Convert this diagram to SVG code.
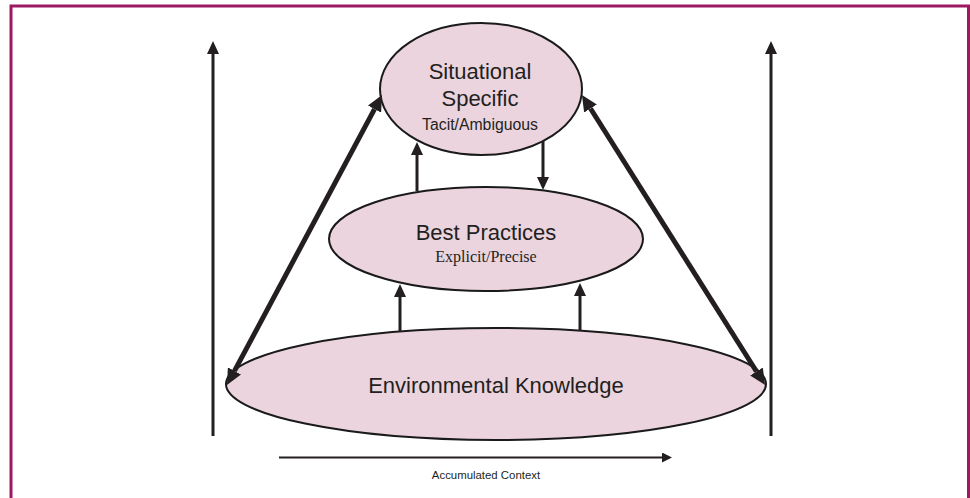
<svg xmlns="http://www.w3.org/2000/svg" width="970" height="498" viewBox="0 0 970 498">
  <defs>
    <style>
      .node { fill: #EBD4DE; stroke: #1a1a1a; stroke-width: 2; }
      .title { font-family: "Liberation Sans", Arial, sans-serif; font-size: 22px; fill: #231f20; text-anchor: middle; }
      .sub { font-family: "Liberation Sans", Arial, sans-serif; font-size: 15.8px; fill: #231f20; text-anchor: middle; }
      .serif { font-family: "Liberation Serif", "Times New Roman", serif; font-size: 16px; fill: #231f20; text-anchor: middle; }
      .caption { font-family: "Liberation Sans", Arial, sans-serif; font-size: 11.4px; fill: #231f20; text-anchor: middle; }
      .thin { stroke: #231f20; stroke-width: 3; fill: none; }
      .thick { stroke: #231f20; stroke-width: 5; fill: none; }
      .axis { stroke: #231f20; stroke-width: 2; fill: none; }
    </style>
    <marker id="head" markerUnits="userSpaceOnUse" markerWidth="14" markerHeight="12" refX="0" refY="6" orient="auto-start-reverse">
      <path d="M0,0 L13,6 L0,12 z" fill="#231f20"/>
    </marker>
    <marker id="headBig" markerUnits="userSpaceOnUse" markerWidth="17" markerHeight="15" refX="0" refY="7.5" orient="auto-start-reverse">
      <path d="M0,0 L16,7.5 L0,15 z" fill="#231f20"/>
    </marker>
    <marker id="headSmall" markerUnits="userSpaceOnUse" markerWidth="11" markerHeight="10" refX="0" refY="5" orient="auto-start-reverse">
      <path d="M0,0 L10,5 L0,10 z" fill="#231f20"/>
    </marker>
  </defs>

  <rect width="970" height="498" fill="#ffffff"/>

  <!-- frame: open at the bottom -->
  <path d="M11,498 V6 H968.5 V498" fill="none" stroke="#9C1A62" stroke-width="3"/>

  <g id="environmental">
    <ellipse class="node" cx="496" cy="384" rx="270" ry="56"/>
    <text class="title" x="496" y="393">Environmental Knowledge</text>
  </g>

  <g id="best-practices">
    <ellipse class="node" cx="486" cy="239" rx="157" ry="52"/>
    <text class="title" x="486" y="240">Best Practices</text>
    <text class="serif" x="486" y="262">Explicit/Precise</text>
  </g>

  <g id="situational">
    <ellipse class="node" cx="481" cy="89" rx="101" ry="66"/>
    <text class="title" x="480" y="79">Situational</text>
    <text class="title" x="480" y="106">Specific</text>
    <text class="sub" x="480" y="130">Tacit/Ambiguous</text>
  </g>

  <g id="connectors">
    <!-- side scales -->
    <line class="thin" x1="213" y1="436" x2="213" y2="54" marker-end="url(#head)"/>
    <line class="thin" x1="771" y1="436" x2="771" y2="54" marker-end="url(#head)"/>

    <!-- diagonals, double headed -->
    <line class="thick" x1="234.5" y1="370.9" x2="374.5" y2="109.1" marker-start="url(#headBig)" marker-end="url(#headBig)"/>
    <line class="thick" x1="590.5" y1="108.5" x2="756.5" y2="371.5" marker-start="url(#headBig)" marker-end="url(#headBig)"/>

    <!-- between situational and best practices -->
    <line class="thin" x1="417" y1="191" x2="417" y2="155" marker-end="url(#head)"/>
    <line class="thin" x1="543" y1="141" x2="543" y2="177" marker-end="url(#head)"/>

    <!-- between environmental and best practices -->
    <line class="thin" x1="400" y1="332" x2="400" y2="297" marker-end="url(#head)"/>
    <line class="thin" x1="580" y1="331" x2="580" y2="296" marker-end="url(#head)"/>

    <!-- context axis -->
    <line class="axis" x1="279" y1="457.5" x2="662" y2="457.5" marker-end="url(#headSmall)"/>
  </g>

  <text class="caption" x="486" y="479">Accumulated Context</text>
</svg>
